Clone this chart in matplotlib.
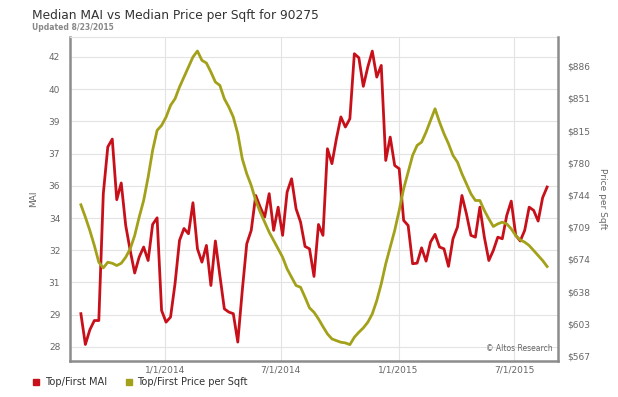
import matplotlib
matplotlib.use("Agg")
import matplotlib.pyplot as plt
from matplotlib.lines import Line2D
import pandas as pd

# weekly readings, 2013-08-23 .. 2015-08-21
weeks = pd.date_range("2013-08-23", periods=105, freq="7D")

mai = [29.15, 27.62, 28.35, 28.81, 28.81, 35.11, 37.43, 37.82, 34.81, 35.64,
       33.53, 32.29, 31.17, 31.96, 32.46, 31.79, 33.58, 33.91, 29.31, 28.73,
       28.98, 30.64, 32.79, 33.38, 33.12, 34.66, 32.37, 31.71, 32.54, 30.55,
       32.76, 31.05, 29.39, 29.23, 29.15, 27.74, 30.30, 32.62, 33.29, 35.02,
       34.44, 33.95, 35.11, 33.29, 34.44, 33.04, 35.19, 35.85, 34.36, 33.70,
       32.49, 32.37, 31.00, 33.58, 33.04, 37.34, 36.60, 37.84, 38.92, 38.42,
       38.83, 42.06, 41.86, 40.44, 41.40, 42.19, 40.90, 41.48, 36.76, 37.92,
       36.51, 36.35, 33.78, 33.53, 31.63, 31.66, 32.42, 31.76, 32.71, 33.09,
       32.46, 32.37, 31.50, 32.87, 33.45, 35.02, 34.11, 33.04, 32.95, 34.44,
       32.95, 31.79, 32.29, 32.95, 32.87, 34.03, 34.74, 33.04, 32.76, 33.29,
       34.44, 34.28, 33.75, 34.91, 35.44]

price = [733.6, 720.0, 705.3, 688.8, 670.4, 664.2, 670.4, 669.3, 666.8, 669.3,
         675.9, 685.1, 699.8, 720.0, 738.3, 764.0, 793.4, 815.4, 820.9, 830.0,
         842.9, 850.2, 863.1, 874.1, 885.1, 896.1, 902.7, 892.4, 889.5, 879.6,
         868.6, 864.9, 850.2, 841.1, 830.0, 811.7, 784.2, 767.7, 754.8, 738.3,
         725.5, 714.5, 703.5, 694.3, 685.1, 675.9, 663.1, 653.9, 644.8, 642.9,
         631.9, 620.2, 615.4, 608.1, 599.6, 591.6, 586.1, 584.2, 582.4, 581.7,
         579.8, 587.9, 593.4, 598.2, 604.4, 613.6, 628.2, 646.6, 668.6, 687.0,
         705.3, 727.3, 751.2, 769.5, 787.9, 798.9, 802.5, 813.5, 826.4, 839.2,
         824.5, 811.7, 800.7, 787.9, 780.5, 767.7, 756.7, 745.7, 738.3, 738.3,
         727.3, 718.1, 709.7, 712.6, 714.5, 712.6, 707.1, 699.8, 695.0, 692.5,
         688.8, 683.3, 677.8, 672.3, 665.7]

mai_ticks = [27.5, 29.1, 30.7, 32.3, 33.9, 35.5, 37.1, 38.7, 40.3, 41.9]
mai_tick_labels = ["28", "29", "31", "32", "34", "36", "37", "39", "40", "42"]
price_ticks = [567, 603, 638, 674, 709, 744, 780, 815, 851, 886]
price_tick_labels = ["$567", "$603", "$638", "$674", "$709",
                     "$744", "$780", "$815", "$851", "$886"]
date_ticks = pd.to_datetime(["2014-01-01", "2014-07-01", "2015-01-01", "2015-07-01"])
date_tick_labels = ["1/1/2014", "7/1/2014", "1/1/2015", "7/1/2015"]

RED = "#c8101a"
OLIVE = "#a3a11a"
TXT = "#666666"

fig = plt.figure(figsize=(6.18, 3.97), dpi=100)
ax = fig.add_axes([70 / 618, 1 - 361 / 397, 488 / 618, 324 / 397])
ax2 = ax.twinx()

ax.plot(weeks, mai, color=RED, lw=2.0, zorder=3)
ax2.plot(weeks, price, color=OLIVE, lw=2.0, zorder=3)

ax.set_xlim(pd.Timestamp("2013-08-06"), pd.Timestamp("2015-09-07"))
ax.set_ylim(26.80, 42.89)
ax2.set_ylim(561.8, 918.1)

ax.set_yticks(mai_ticks)
ax.set_yticklabels(mai_tick_labels)
ax2.set_yticks(price_ticks)
ax2.set_yticklabels(price_tick_labels)
ax.set_xticks(date_ticks)
ax.set_xticklabels(date_tick_labels)

ax.grid(True, color="#e3e3e3", lw=0.8)
ax.set_axisbelow(True)

ax.tick_params(axis="y", length=0, pad=7, labelsize=6.5, labelcolor=TXT)
ax.tick_params(axis="x", length=0, pad=3, labelsize=6.5, labelcolor=TXT)
ax2.tick_params(axis="y", length=0, pad=7, labelsize=6.5, labelcolor=TXT)

for s in ["left", "bottom"]:
    ax.spines[s].set_color("#8c8c8c")
    ax.spines[s].set_linewidth(1.8)
ax.spines["right"].set_visible(False)
ax.spines["top"].set_color("#e3e3e3")
ax.spines["top"].set_linewidth(0.8)
for s in ["left", "bottom", "top"]:
    ax2.spines[s].set_visible(False)
ax2.spines["right"].set_color("#8c8c8c")
ax2.spines["right"].set_linewidth(1.8)

ax.set_ylabel("MAI", fontsize=6.5, color=TXT, labelpad=8)
ax2.set_ylabel("Price per Sqft", fontsize=6.5, color=TXT, rotation=270, labelpad=12)

fig.text(32 / 618, 1 - 16 / 397, "Median MAI vs Median Price per Sqft for 90275",
         fontsize=8.8, color="#333333", va="center", ha="left")
fig.text(32 / 618, 1 - 28 / 397, "Updated 8/23/2015",
         fontsize=5.5, color="#888888", fontweight="bold", va="center", ha="left")
ax.text(0.988, 0.04, "© Altos Research", transform=ax.transAxes,
        fontsize=5.5, color=TXT, ha="right", va="center")

handles = [Line2D([], [], ls="", marker="s", color=RED, markersize=4.5),
           Line2D([], [], ls="", marker="s", color=OLIVE, markersize=4.5)]
fig.legend(handles, ["Top/First MAI", "Top/First Price per Sqft"],
           loc="center left", bbox_to_anchor=(23 / 618, 1 - 382 / 397),
           ncol=2, frameon=False, fontsize=7.1, handlelength=0.8,
           handletextpad=0.5, columnspacing=1.8, labelcolor="#333333")

fig.savefig("out.png", dpi=100)
